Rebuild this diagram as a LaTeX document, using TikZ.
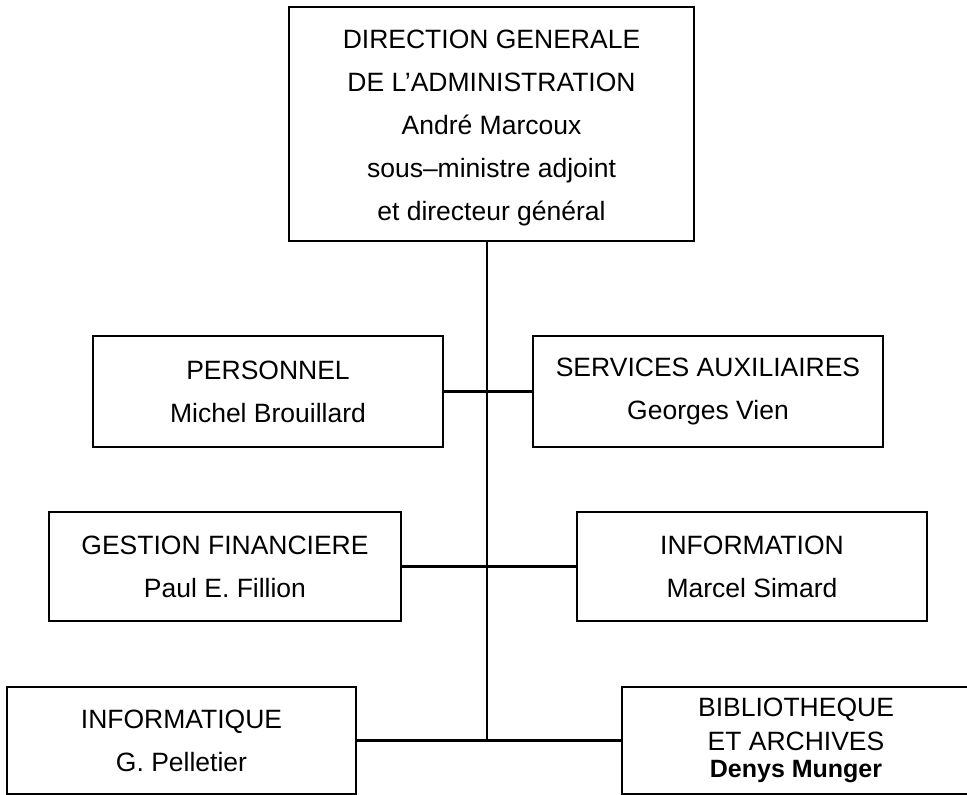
\documentclass[tikz,border=0pt]{standalone}
\usepackage{fontspec}
\setmainfont{Liberation Sans}
\begin{document}
\begin{tikzpicture}[x=1pt,y=-1pt,
  orgbox/.style={draw, line width=1.7pt, inner sep=0pt, align=center,
    font=\fontsize{26.5}{43}\selectfont},
  link/.style={line width=2.4pt}]
\useasboundingbox (0,0) rectangle (967,795);

% head of the directorate
\node[orgbox, minimum width=405pt, minimum height=234pt] (dg) at (491.5,124)
  {\rule{0pt}{26pt}DIRECTION GENERALE\\DE L'ADMINISTRATION\\André Marcoux\\sous--ministre adjoint\\et directeur général};

% first row
\node[orgbox, minimum width=350pt, minimum height=111pt] (pers) at (268,391.5)
  {PERSONNEL\\Michel Brouillard};
\node[orgbox, minimum width=350pt, minimum height=111pt] (serv) at (708,391.5)
  {SERVICES AUXILIAIRES\\Georges Vien};

% second row
\node[orgbox, minimum width=352pt, minimum height=109pt] (gest) at (225,566.5)
  {GESTION FINANCIERE\\Paul E. Fillion};
\node[orgbox, minimum width=350pt, minimum height=109pt] (info) at (752,566.5)
  {INFORMATION\\Marcel Simard};

% third row
\node[orgbox, minimum width=349pt, minimum height=107pt] (infq) at (181.5,740.5)
  {INFORMATIQUE\\G. Pelletier};
\node[orgbox, minimum width=348pt, minimum height=107pt, font=\fontsize{26.5}{34}\selectfont] (bib) at (796,740.5)
  {BIBLIOTHEQUE\\ET ARCHIVES\\[-7pt]{\fontsize{25}{27}\selectfont\bfseries Denys Munger}};

% trunk and branches
\coordinate (trunk) at (487,241);
\draw[link] (trunk |- dg.south) -- (trunk |- infq.east);
\draw[link] (pers.east) -- (serv.west);
\draw[link] (gest.east) -- (info.west);
\draw[link] (infq.east) -- (bib.west);
\end{tikzpicture}
\end{document}
